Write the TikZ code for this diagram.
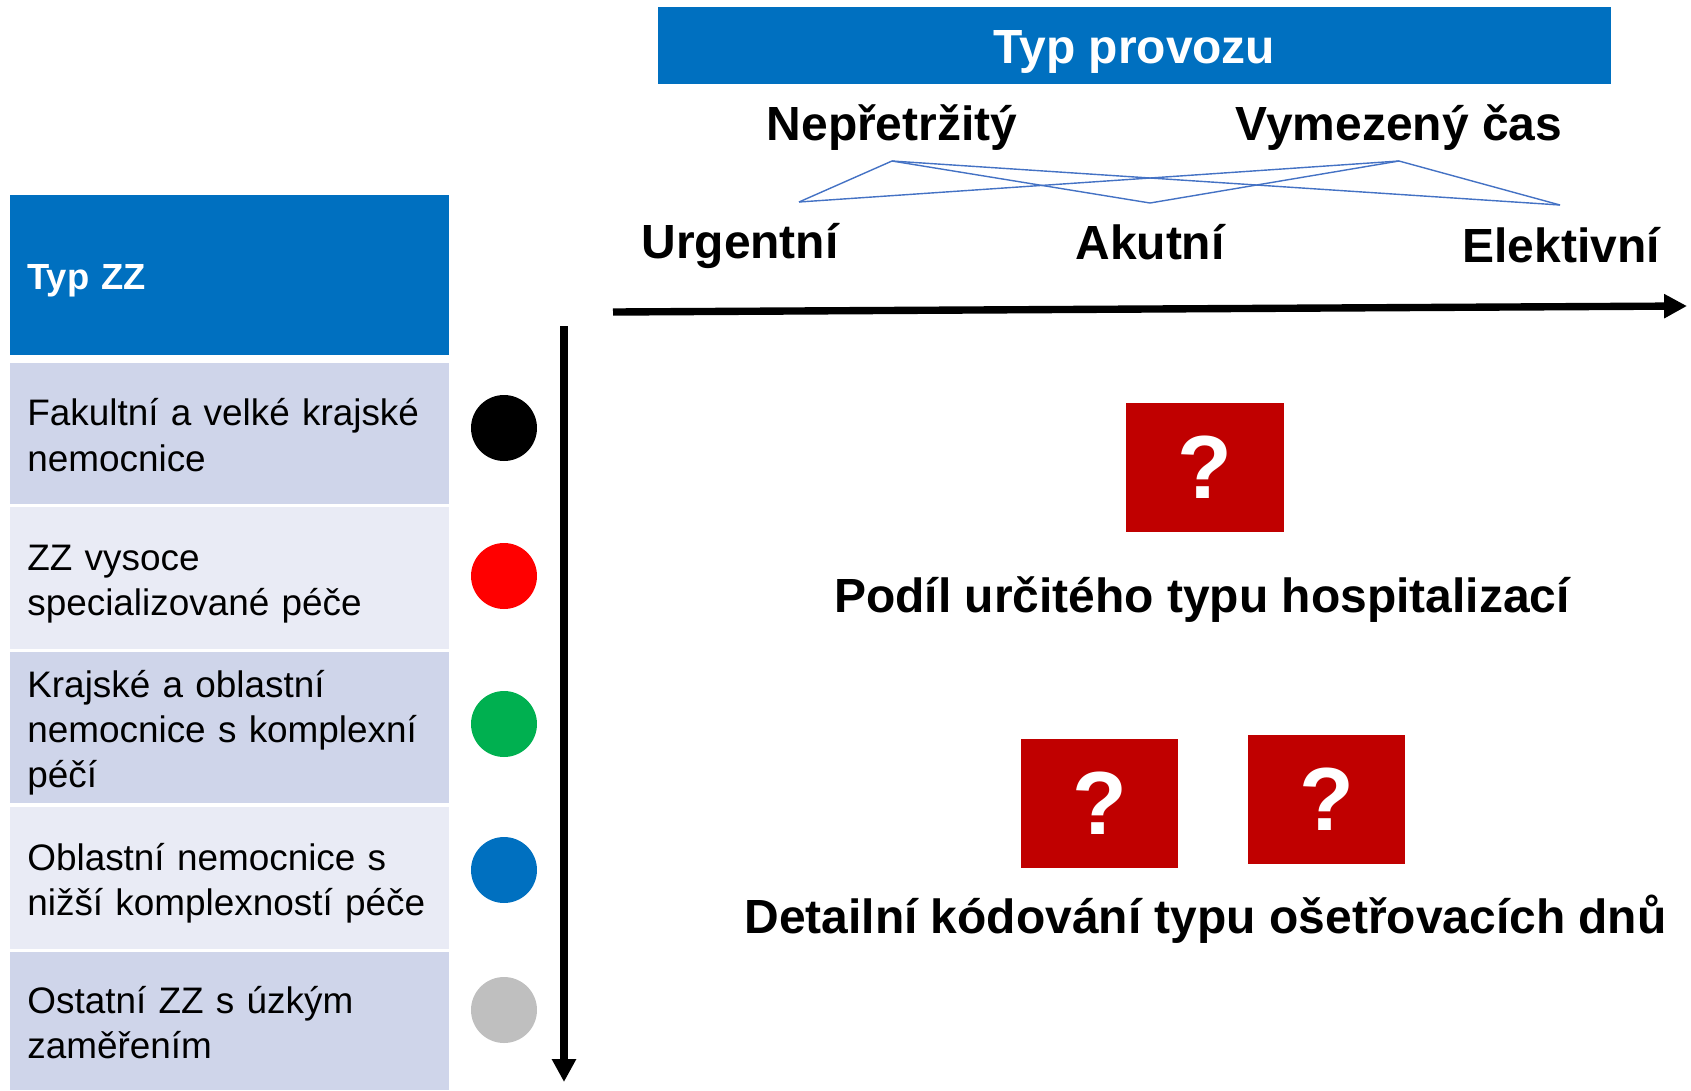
\documentclass[tikz,border=0pt]{standalone}
\usepackage{fontspec}
\setmainfont{Liberation Sans}
\usetikzlibrary{arrows.meta}
\definecolor{zzblue}{HTML}{0070C0}
\definecolor{rowdark}{HTML}{CFD5EA}
\definecolor{rowlight}{HTML}{E9EBF5}
\definecolor{qred}{HTML}{C00000}
\definecolor{linkblue}{HTML}{4472C4}
\definecolor{dotgreen}{HTML}{00B050}
\definecolor{dotgray}{HTML}{BFBFBF}

\begin{document}
\begin{tikzpicture}[x=0.02cm, y=-0.02cm,
	bigtext/.style={font=\fontsize{27.3}{32}\selectfont\bfseries, inner sep=0pt},
	rowcell/.style={anchor=west, inner xsep=0.34cm, inner ysep=0pt,
		minimum width=8.78cm, text width=8.1cm, align=left,
		font=\fontsize{21}{25.8}\selectfont,
		execute at begin node=\rule{0pt}{23.6pt},
		execute at end node=\rule[-6.7pt]{0pt}{6.7pt}},
	qbox/.style={fill=qred, minimum width=3.16cm, minimum height=2.58cm,
		text=white, font=\fontsize{51}{60}\selectfont\bfseries, inner sep=0pt},
	zzdot/.style={circle, minimum size=1.32cm, inner sep=0pt},
	link/.style={linkblue, line width=0.8pt},
	timeaxis/.style={line width=4.2pt, -{Triangle[length=13pt, width=13pt]}}]
\useasboundingbox (0,0) rectangle (1691,1090);

% hlavicky
\node[fill=zzblue, minimum width=19.06cm, minimum height=1.54cm,
	text height=0.7cm, text depth=0pt, text=white, bigtext]
	(provoz) at (1134.5,45.5) {Typ provozu};
\node[rowcell, fill=zzblue, minimum height=3.2cm, text=white,
	font=\fontsize{20.7}{25}\selectfont\bfseries]
	(typzz) at (10,275) {Typ ZZ};

\node[bigtext, anchor=base] (nep) at (892,140) {Nepřetržitý};
\node[bigtext, anchor=base] (vym) at (1399,140) {Vymezený čas};
\node[bigtext, anchor=base] (urg) at (740,258) {Urgentní};
\node[bigtext, anchor=base] (aku) at (1150,259) {Akutní};
\node[bigtext, anchor=base] (ele) at (1561,262) {Elektivní};

\coordinate (nepB) at (892,161);
\coordinate (vymB) at (1399,161);
\coordinate (urgT) at (799,202);
\coordinate (akuT) at (1150,203);
\coordinate (eleT) at (1560,205);
\foreach \a in {nepB, vymB}
	\foreach \b in {urgT, akuT, eleT}
		\draw[link] (\a) -- (\b);

\coordinate (hStart) at (613,312);
\coordinate (hEnd) at (1687,306);
\draw[timeaxis] (hStart) -- (hEnd);

% radky typu ZZ
\foreach \i/\y/\h/\col/\dy/\dcol/\txt in {
	1/433.5/2.82/rowdark/428/black/{Fakultní a velké krajské\\nemocnice},
	2/578/2.84/rowlight/576/red/{ZZ vysoce\\specializované péče},
	3/727.5/3.02/rowdark/724/dotgreen/{Krajské a oblastní\\nemocnice s komplexní\\péčí},
	4/878/2.84/rowlight/870/zzblue/{Oblastní nemocnice s\\nižší komplexností péče},
	5/1021/2.76/rowdark/1010/dotgray/{Ostatní ZZ s úzkým\\zaměřením}}
{
	\node[rowcell, fill=\col, minimum height=\h cm] (row\i) at (10,\y) {\txt};
	\node[zzdot, fill=\dcol] (dot\i) at (504,\dy) {};
}

\coordinate (vStart) at (564,326);
\coordinate (vEnd) at (564,1082);
\draw[timeaxis] (vStart) -- (vEnd);

% otazniky
\node[qbox] (q1) at (1205,467.5) {?};
\node[bigtext, anchor=base] (podil) at (1202,612) {Podíl určitého typu hospitalizací};
\node[qbox] (q2) at (1099.5,803.5) {?};
\node[qbox] (q3) at (1326.5,799.5) {?};
\node[bigtext, anchor=base] (detail) at (1205.5,933) {Detailní kódování typu ošetřovacích dnů};
\end{tikzpicture}
\end{document}
